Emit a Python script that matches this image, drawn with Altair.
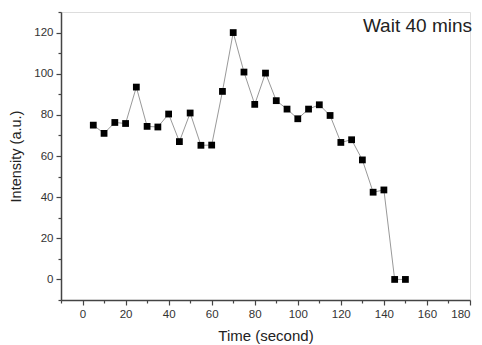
import altair as alt
import pandas as pd

# Intensity readings every 5 seconds
time_s = [5, 10, 15, 20, 25, 30, 35, 40, 45, 50, 55, 60, 65, 70, 75,
          80, 85, 90, 95, 100, 105, 110, 115, 120, 125, 130, 135, 140, 145, 150]
intensity = [75, 71, 76.3, 75.8, 93.5, 74.4, 74.1, 80.4, 67, 80.9, 65.2, 65.3, 91.4, 120, 100.8,
             85.1, 100.3, 86.9, 82.8, 78.1, 82.8, 84.9, 79.7, 66.6, 67.9, 58.1, 42.4, 43.5, 0, 0]

x_major = [0, 20, 40, 60, 80, 100, 120, 140, 160, 180]
x_minor = [-10, 10, 30, 50, 70, 90, 110, 130, 150, 170]
y_major = [0, 20, 40, 60, 80, 100, 120]
y_minor = [-10, 10, 30, 50, 70, 90, 110, 130]

df = pd.DataFrame({"t": time_s, "v": intensity})

FONT = "Liberation Sans"
xs = alt.Scale(domain=[-10, 180], nice=False, zero=False)
ys = alt.Scale(domain=[-10, 130], nice=False, zero=False)

common_axis = dict(grid=False, labelFont=FONT, titleFont=FONT, labelColor="#333",
                   titleColor="#222", domainColor="#444", domainWidth=1.5,
                   tickColor="#444", tickWidth=1.2)

base = alt.Chart(df)

line = base.mark_line(color="#999999", strokeWidth=1).encode(
    x=alt.X("t:Q", scale=xs,
            axis=alt.Axis(values=x_major, tickSize=5, labelFontSize=11.5, labelPadding=3,
                          title="Time (second)", titleFontSize=15, titleFontWeight="normal",
                          titlePadding=9, orient="bottom", **common_axis)),
    y=alt.Y("v:Q", scale=ys,
            axis=alt.Axis(values=y_major, tickSize=5, labelFontSize=11.5, labelPadding=3,
                          title="Intensity (a.u.)", titleFontSize=14.5, titleFontWeight="normal",
                          titlePadding=10, orient="left", **common_axis)),
)

points = base.mark_square(color="black", size=46, opacity=1).encode(
    x=alt.X("t:Q", scale=xs,
            axis=alt.Axis(values=x_minor, tickSize=3, labels=False, title=None, domain=False,
                          orient="bottom", grid=False, tickColor="#444", tickWidth=1.2)),
    y=alt.Y("v:Q", scale=ys,
            axis=alt.Axis(values=y_minor, tickSize=3, labels=False, title=None, domain=False,
                          orient="left", grid=False, tickColor="#444", tickWidth=1.2)),
)

label = alt.Chart(pd.DataFrame({"txt": ["Wait 40 mins"]})).mark_text(
    font=FONT, fontSize=19, color="#222", align="right", baseline="alphabetic"
).encode(x=alt.value(411), y=alt.value(20), text="txt:N")

chart = alt.layer(line, points, label).resolve_axis(x="independent", y="independent").properties(
    width=409, height=288,
    padding={"left": 61, "top": 12, "right": 12, "bottom": 45},
    autosize="none",
).configure_view(stroke=None).configure(background="white")

chart.save("out.html", embed_options={"renderer": "svg", "actions": False})
